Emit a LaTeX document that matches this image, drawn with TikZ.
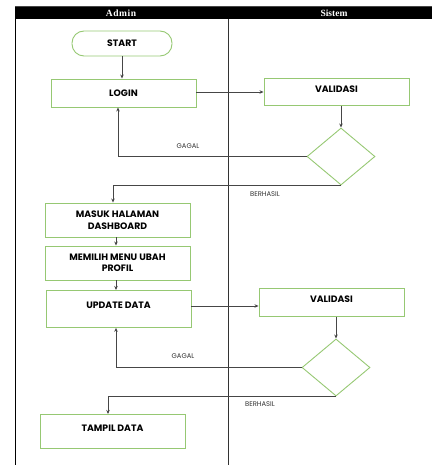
\documentclass[tikz,border=0pt]{standalone}
\usepackage{fontspec}
\setmainfont{Poppins}
\newfontfamily\headfont{Liberation Serif}
\usetikzlibrary{arrows.meta,shapes.geometric}
\definecolor{boxgreen}{RGB}{150,200,115}
\definecolor{linegray}{RGB}{70,70,70}
\tikzset{
  boxfont/.style={font=\fontsize{9.3}{11.5}\selectfont\bfseries},
  stepbox/.style={draw=boxgreen,line width=0.9pt,minimum width=145pt,align=center,boxfont},
  termbox/.style={draw=boxgreen,line width=0.9pt,rounded corners=12pt,minimum width=100pt,minimum height=25pt,boxfont},
  decbox/.style={draw=boxgreen,line width=0.9pt,diamond,minimum width=68pt,minimum height=57pt,inner sep=0pt},
  flow/.style={draw=linegray,line width=0.8pt,-{Stealth[length=4pt,width=3.5pt]}},
  lbl/.style={font=\fontsize{6.8}{8}\selectfont,text=black!80},
  lanehead/.style={text=white,font=\headfont\bfseries\fontsize{9.5}{10}\selectfont}
}
\begin{document}
\begin{tikzpicture}[x=1pt,y=-1pt]
\useasboundingbox (0,0) rectangle (432,465);
% swimlane frame
\fill[black] (15,7) rectangle (432,19);
\draw[linegray,line width=0.5pt] (15,6) -- (432,6);
\draw[black,line width=0.8pt] (15,7) -- (15,465);
\draw[black!80,line width=0.8pt] (228,19) -- (228,465);
\node[lanehead] (hadmin) at (121,13) {A\kern0.6pt d\kern0.6pt m\kern0.6pt i\kern0.6pt n};
\node[lanehead] (hsis) at (334,13) {Sistem};
% nodes
\node[termbox] (start) at (122,43.5) {START};
\node[stepbox,minimum height=28pt] (login) at (123.5,93) {LOGIN};
\node[stepbox,minimum height=27pt,anchor=north] (val1) at (336.5,78) {};
\node[boxfont] (val1t) at (336.5,89.5) {VALIDASI};
\node[decbox] (dec1) at (341,156.5) {};
\node[stepbox,minimum height=34pt] (masuk) at (117.5,220) {MASUK HALAMAN\\DASHBOARD};
\node[stepbox,minimum height=34pt] (pilih) at (117.5,263) {MEMILIH MENU UBAH\\PROFIL};
\node[stepbox,minimum height=37pt,anchor=north] (upd) at (118.5,290) {};
\node[boxfont] (updt) at (118.5,305) {UPDATE DATA};
\node[stepbox,minimum height=28pt,anchor=north] (val2) at (331.5,288) {};
\node[boxfont] (val2t) at (331.5,299) {VALIDASI};
\node[decbox] (dec2) at (336,367.5) {};
\node[stepbox,minimum height=34pt,anchor=north] (tampil) at (112.5,414) {};
\node[boxfont] (tampilt) at (112.5,428) {TAMPIL DATA};
% connectors
\draw[flow] (start.south) -- (login.north -| start.south);
\draw[flow] (login.east |- 0,92) -- (val1.west |- 0,92);
\draw[flow] (val1.south -| dec1.north) -- (dec1.north);
\draw[flow] (dec1.west) -| (login.south -| 118,0);
\draw[flow] (dec1.south) -| (masuk.north -| 113,0);
\draw[flow] (masuk.south -| 116,0) -- (pilih.north -| 116,0);
\draw[flow] (pilih.south -| 116,0) -- (upd.north -| 116,0);
\draw[flow] (upd.east |- 0,306) -- (val2.west |- 0,306);
\draw[flow] (val2.south -| dec2.north) -- (dec2.north);
\draw[flow] (dec2.west) -| (upd.south -| 116,0);
\draw[flow] (dec2.south) -| (tampil.north -| 108,0);
% branch labels
\node[lbl] (g1) at (188,146) {GAGAL};
\node[lbl] (b1) at (265,194.5) {BERHASIL};
\node[lbl] (g2) at (183,356) {GAGAL};
\node[lbl] (b2) at (260,404.5) {BERHASIL};
\end{tikzpicture}
\end{document}
